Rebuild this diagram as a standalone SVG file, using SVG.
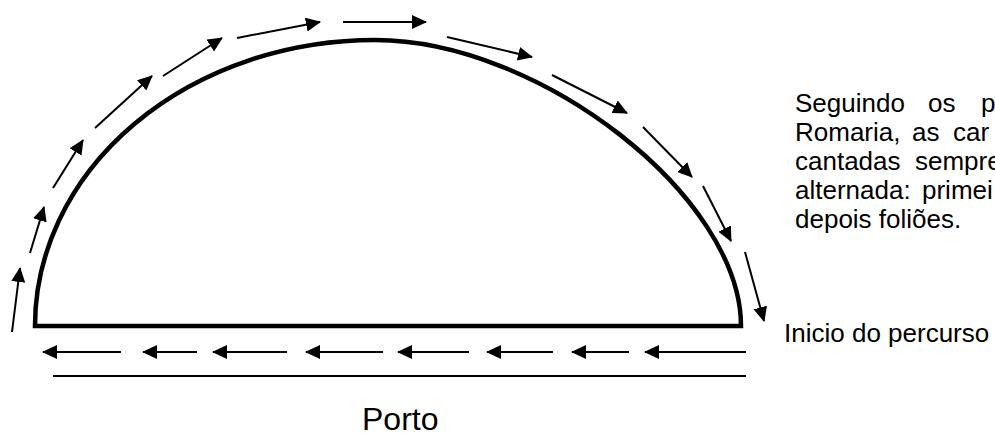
<svg xmlns="http://www.w3.org/2000/svg" width="995" height="437" viewBox="0 0 995 437">
<style>
.arc{fill:none;stroke:#000;stroke-width:4.5;stroke-linejoin:miter}
.ar{fill:none;stroke:#000;stroke-width:2;marker-end:url(#ah)}
.ln{fill:none;stroke:#000;stroke-width:2}
.t{font-family:"Liberation Sans",Arial,sans-serif;fill:#000}
</style>
<defs>
<marker id="ah" markerUnits="userSpaceOnUse" markerWidth="16" markerHeight="16" refX="14" refY="7" orient="auto">
<path d="M0,0 L15,7 L0,14 Z" fill="#000"/>
</marker>
</defs>
<g id="dome">
<path class="arc" d="M35,326 A340,286 0 0 1 375,40 C540,40 741,197 741,326 Z"/>
</g>
<g id="connectors">
<line class="ar" x1="12" y1="332" x2="20" y2="268"/>
<line class="ar" x1="30" y1="253" x2="44" y2="207"/>
<line class="ar" x1="53" y1="188" x2="83" y2="140"/>
<line class="ar" x1="95" y1="128" x2="152" y2="76"/>
<line class="ar" x1="163" y1="76" x2="222" y2="38"/>
<line class="ar" x1="237" y1="38" x2="320" y2="22"/>
<line class="ar" x1="343" y1="22" x2="426" y2="22"/>
<line class="ar" x1="447" y1="37" x2="532" y2="57"/>
<line class="ar" x1="552" y1="75" x2="627" y2="113"/>
<line class="ar" x1="643" y1="127" x2="692" y2="177"/>
<line class="ar" x1="703" y1="186" x2="731" y2="241"/>
<line class="ar" x1="745" y1="252" x2="764" y2="321"/>
<line class="ar" x1="121" y1="352" x2="43" y2="352"/>
<line class="ar" x1="197" y1="352" x2="143" y2="352"/>
<line class="ar" x1="287" y1="352" x2="213" y2="352"/>
<line class="ar" x1="383" y1="352" x2="306" y2="352"/>
<line class="ar" x1="469" y1="352" x2="398" y2="352"/>
<line class="ar" x1="553" y1="352" x2="487" y2="352"/>
<line class="ar" x1="629" y1="352" x2="572" y2="352"/>
<line class="ar" x1="746" y1="352" x2="645" y2="352"/>
<line class="ln" x1="53" y1="376" x2="746" y2="376"/>
</g>
<g id="note" class="t" font-size="26">
<text x="795" y="112">Seguindo</text><text x="928" y="112">os</text><text x="981" y="112">p</text>
<text x="795" y="141">Romaria,</text><text x="912" y="141">as</text><text x="953" y="141">car</text>
<text x="795" y="170">cantadas</text><text x="915" y="170">sempre</text>
<text x="795" y="199">alternada:</text><text x="922" y="199">primei</text>
<text x="795" y="228">depois foliões.</text>
</g>
<g id="start"><text class="t" x="784" y="342" font-size="26">Inicio do percurso</text></g>
<g id="porto"><text class="t" x="362" y="430" font-size="32">Porto</text></g>
</svg>
